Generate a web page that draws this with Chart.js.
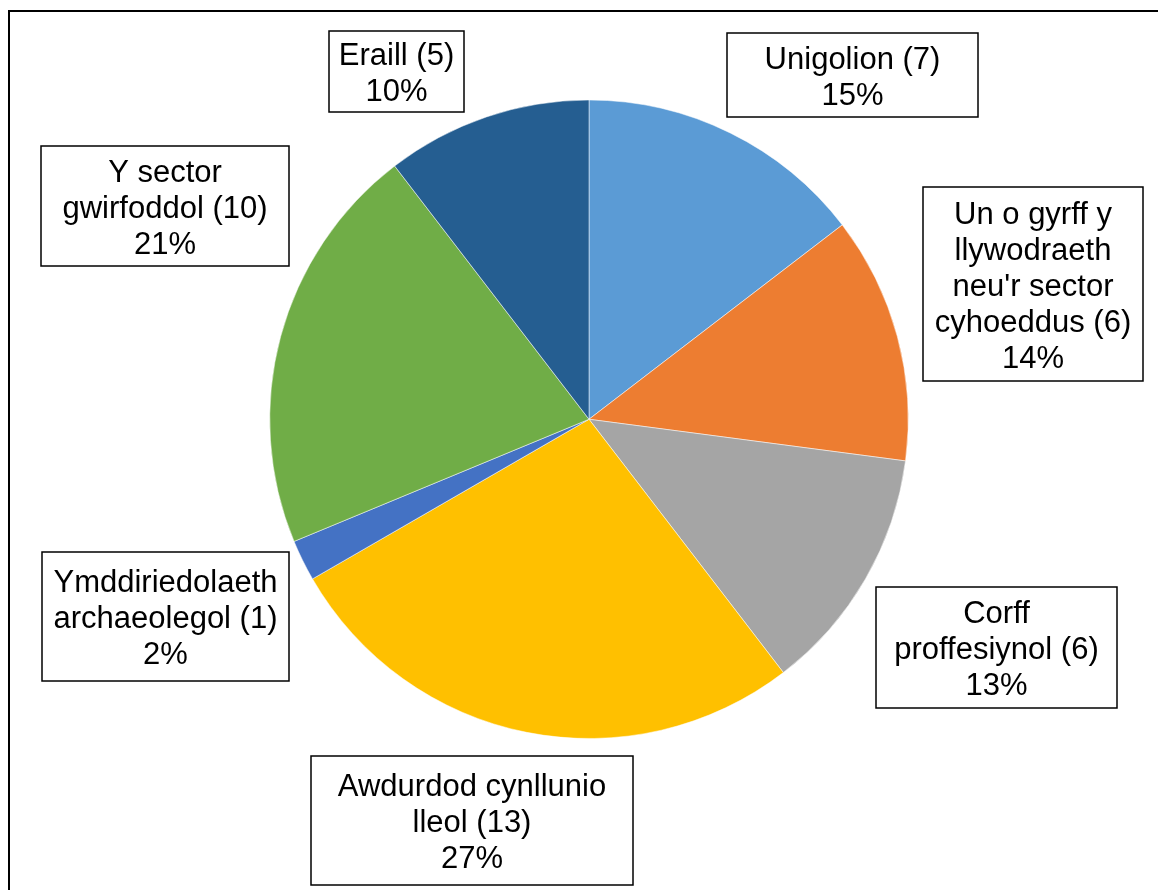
<!DOCTYPE html>
<html lang="cy">
<head>
    <meta charset="UTF-8">
    <title>Siart cylch</title>
    <script src="https://cdn.jsdelivr.net/npm/chart.js"></script>
    <style>
        html, body {
            margin: 0;
            padding: 0;
            background: #ffffff;
        }
        #wrap {
            width: 1158px;
            height: 890px;
        }
    </style>
</head>
<body>
    <div id="wrap"><canvas id="siart" width="1158" height="890"></canvas></div>

    <script>
        // Data
        const categorïau = ["Unigolion", "Un o gyrff y llywodraeth neu'r sector cyhoeddus", "Corff proffesiynol",
            "Awdurdod cynllunio lleol", "Ymddiriedolaeth archaeolegol", "Y sector gwirfoddol", "Eraill"];
        const gwerthoedd = [7, 6, 6, 13, 1, 10, 5];
        const canrannau = ["15%", "14%", "13%", "27%", "2%", "21%", "10%"];
        const llinellauLabel = [
            ["Unigolion (7)"],
            ["Un o gyrff y", "llywodraeth", "neu'r sector", "cyhoeddus (6)"],
            ["Corff", "proffesiynol (6)"],
            ["Awdurdod cynllunio", "lleol (13)"],
            ["Ymddiriedolaeth", "archaeolegol (1)"],
            ["Y sector", "gwirfoddol (10)"],
            ["Eraill (5)"]
        ];
        const lliwiau = ['#5B9BD5', '#ED7D31', '#A5A5A5', '#FFC000', '#4472C4', '#70AD47', '#255E91'];

        // Safle'r blychau label (x1, y1, x2, y2)
        const blychau = [
            [727, 33, 978, 117],
            [923, 187, 1143, 381],
            [876, 587, 1117, 708],
            [311, 756, 633, 885],
            [42, 552, 289, 681],
            [41, 146, 289, 266],
            [329, 31, 464, 112]
        ];

        const labelsPlugin = {
            id: 'labelsBlwch',
            afterDraw(chart) {
                const ctx = chart.ctx;
                ctx.save();
                // ffrâm allanol
                ctx.strokeStyle = '#000';
                ctx.lineWidth = 2;
                ctx.strokeRect(9, 11, 1170, 900);

                ctx.font = '31px "Liberation Sans", Arial, sans-serif';
                ctx.textAlign = 'center';
                ctx.textBaseline = 'middle';
                blychau.forEach((b, i) => {
                    ctx.fillStyle = '#fff';
                    ctx.fillRect(b[0], b[1], b[2] - b[0], b[3] - b[1]);
                    ctx.strokeStyle = '#000';
                    ctx.lineWidth = 1.5;
                    ctx.strokeRect(b[0], b[1], b[2] - b[0], b[3] - b[1]);
                    const llinellau = llinellauLabel[i].concat([canrannau[i]]);
                    const lh = 36;
                    const cx = (b[0] + b[2]) / 2;
                    const cy = (b[1] + b[3]) / 2 + 3;
                    const y0 = cy - (llinellau.length - 1) * lh / 2;
                    ctx.fillStyle = '#000';
                    llinellau.forEach((t, j) => ctx.fillText(t, cx, y0 + j * lh));
                });
                ctx.restore();
            }
        };

        new Chart(document.getElementById('siart'), {
            type: 'pie',
            data: {
                labels: categorïau,
                datasets: [{
                    data: gwerthoedd,
                    backgroundColor: lliwiau,
                    borderColor: '#ffffff',
                    borderWidth: 0.5
                }]
            },
            options: {
                responsive: false,
                animation: false,
                layout: {
                    padding: { top: 99.5, bottom: 151, left: 269.5, right: 249.5 }
                },
                plugins: {
                    legend: { display: false },
                    tooltip: { enabled: false }
                }
            },
            plugins: [labelsPlugin]
        });
    </script>
</body>
</html>
